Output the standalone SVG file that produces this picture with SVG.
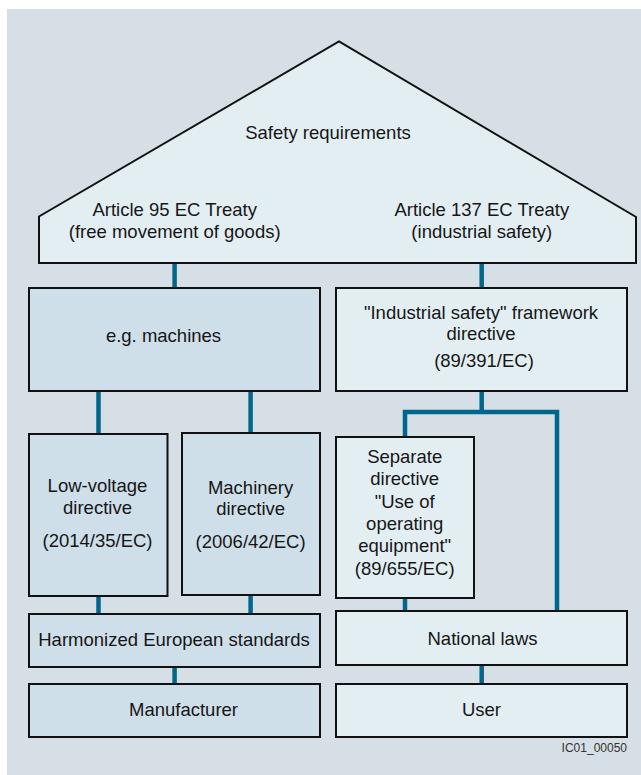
<svg xmlns="http://www.w3.org/2000/svg" width="641" height="775" viewBox="0 0 641 775">
  <style>
    text { font-family: "Liberation Sans", Arial, sans-serif; font-size: 18.5px; fill: #161616; text-anchor: middle; }
    .dark { fill: #cfdfe9; stroke: #111; stroke-width: 2; }
    .light { fill: #e3eef3; stroke: #111; stroke-width: 2; }
    .conn { stroke: #00668a; stroke-width: 4.5; fill: none; }
    .code { font-size: 12px; fill: #333; text-anchor: end; }
  </style>
  <rect x="7" y="9" width="634" height="766" fill="#d5dfe5"/>

  <g id="connectors">
    <line class="conn" x1="174.6" y1="263" x2="174.6" y2="288"/>
    <line class="conn" x1="481.7" y1="263" x2="481.7" y2="288"/>
    <line class="conn" x1="98.5" y1="391" x2="98.5" y2="434"/>
    <line class="conn" x1="250.6" y1="391" x2="250.6" y2="433"/>
    <path class="conn" d="M481.7 391 V412 M405 437 V412 H557 V611"/>
    <line class="conn" x1="98.5" y1="596" x2="98.5" y2="614"/>
    <line class="conn" x1="250.6" y1="595" x2="250.6" y2="614"/>
    <line class="conn" x1="405" y1="598" x2="405" y2="611"/>
    <line class="conn" x1="174.6" y1="667" x2="174.6" y2="684"/>
    <line class="conn" x1="481.7" y1="665" x2="481.7" y2="684"/>
  </g>

  <g id="safety">
    <polygon class="light" points="39,263 39,216.5 339,41.5 636,217 636,263"/>
    <text x="328" y="139">Safety requirements</text>
    <text x="174.7" y="216">Article 95 EC Treaty</text>
    <text x="174.7" y="238">(free movement of goods)</text>
    <text x="481.8" y="216">Article 137 EC Treaty</text>
    <text x="481.8" y="238">(industrial safety)</text>
  </g>

  <g id="machines">
    <rect class="dark" x="29" y="288" width="291" height="103"/>
    <text x="163.5" y="342">e.g. machines</text>
  </g>

  <g id="framework">
    <rect class="light" x="336" y="288" width="291" height="103"/>
    <text x="481" y="319">"Industrial safety" framework</text>
    <text x="481" y="339.5">directive</text>
    <text x="484" y="367">(89/391/EC)</text>
  </g>

  <g id="lowvoltage">
    <rect class="dark" x="29" y="434" width="138.5" height="162"/>
    <text x="97.5" y="492">Low-voltage</text>
    <text x="97.5" y="513.5">directive</text>
    <text x="97.5" y="547">(2014/35/EC)</text>
  </g>

  <g id="machinery">
    <rect class="dark" x="182" y="433" width="138" height="162"/>
    <text x="250.6" y="493.5">Machinery</text>
    <text x="250.6" y="515">directive</text>
    <text x="250.6" y="548">(2006/42/EC)</text>
  </g>

  <g id="separate">
    <rect class="light" x="336" y="437" width="138" height="161"/>
    <text x="404.7" y="463">Separate</text>
    <text x="404.7" y="485">directive</text>
    <text x="404.7" y="507.5">"Use of</text>
    <text x="404.7" y="530">operating</text>
    <text x="404.7" y="552">equipment"</text>
    <text x="404.7" y="575">(89/655/EC)</text>
  </g>

  <g id="harmonized">
    <rect class="dark" x="29" y="614" width="291" height="53"/>
    <text x="174" y="646">Harmonized European standards</text>
  </g>

  <g id="national">
    <rect class="light" x="336" y="611" width="291" height="54"/>
    <text x="482.5" y="645">National laws</text>
  </g>

  <g id="manufacturer">
    <rect class="dark" x="29" y="684" width="291" height="53"/>
    <text x="183.5" y="716">Manufacturer</text>
  </g>

  <g id="user">
    <rect class="light" x="336" y="684" width="291" height="53"/>
    <text x="481.5" y="716">User</text>
  </g>

  <text class="code" x="627" y="752">IC01_00050</text>
</svg>
